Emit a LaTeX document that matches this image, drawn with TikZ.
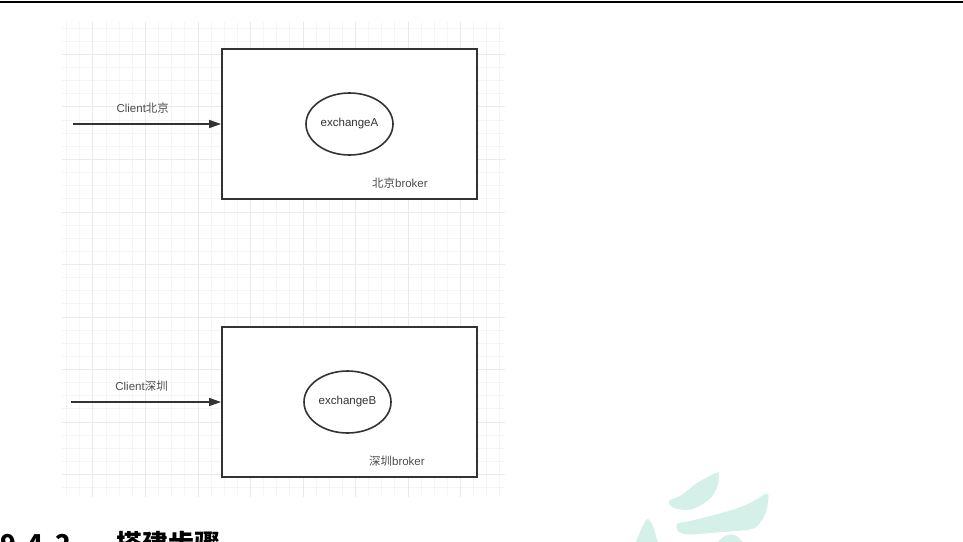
\documentclass[tikz,border=0pt]{standalone}
\usepackage{fontspec}
\setmainfont{Liberation Sans}
\newfontfamily\cjk{Noto Sans CJK SC}
\usetikzlibrary{arrows.meta,shapes.geometric,positioning}
\definecolor{gridminor}{RGB}{245,245,245}
\definecolor{gridmajor}{RGB}{234,234,234}
\definecolor{ink}{RGB}{51,51,51}
\definecolor{wm}{RGB}{213,239,233}

\begin{document}
\begin{tikzpicture}[x=1pt,y=-1pt,
  broker/.style={draw=ink,line width=1.8pt,fill=white,minimum width=255pt,minimum height=150pt,inner sep=0pt},
  exch/.style={ellipse,draw=ink,line width=1.6pt,minimum width=87pt,minimum height=62pt,inner sep=0pt,font=\fontsize{11.5}{14}\selectfont,text=ink},
  lbl/.style={inner sep=0pt,font=\fontsize{11.5}{14}\selectfont,text=black!70},
  flow/.style={-{Triangle[length=12pt,width=8pt]},color=ink,line width=1.6pt}]

\useasboundingbox (0,0) rectangle (963,541);
\draw[line width=2.5pt] (0,2.2) -- (963,2.2);

\foreach \k in {0,...,33} \draw[gridminor,line width=1pt] ({66.7+13.13*\k},22) -- ({66.7+13.13*\k},497);
\foreach \k in {0,...,35} \draw[gridminor,line width=1pt] (62,{28.2+13.13*\k}) -- (505,{28.2+13.13*\k});
\foreach \k in {2,6,...,30} \draw[gridmajor,line width=1pt] ({66.7+13.13*\k},22) -- ({66.7+13.13*\k},497);
\foreach \k in {2,6,...,34} \draw[gridmajor,line width=1pt] (62,{28.2+13.13*\k}) -- (505,{28.2+13.13*\k});

\node[broker] (brokerA) at (349.5,124) {};
\node[exch] (exchA) at (brokerA) {exchangeA};
\node[lbl] (locA) at ([xshift=-78pt,yshift=17pt]brokerA.south east) {{\cjk 北京}broker};

\node[broker] (brokerB) at (349.5,402) {};
\node[exch] (exchB) at ([xshift=-2pt]brokerB.center) {exchangeB};
\node[lbl] (locB) at ([xshift=-81pt,yshift=17pt]brokerB.south east) {{\cjk 深圳}broker};

\coordinate (cA) at (73.3,124);
\coordinate (cB) at (71,402);
\path[flow] (cA) edge node[lbl,above=9.5pt,pos=.47] {Client{\cjk 北京}} (brokerA)
            (cB) edge node[lbl,above=9.5pt,pos=.47] {Client{\cjk 深圳}} (brokerB);

\begin{scope}
\clip (0,0) rectangle (963,541);
\fill[wm] plot[smooth cycle,tension=.7] coordinates {(716.7,472.7) (696.7,483.3) (681.7,495) (670,500) (669.3,503.3) (675,508.3) (691.7,509.3) (708.3,500) (716.7,488.3) (718.7,476.7)};
\fill[wm] plot[smooth cycle,tension=.6] coordinates {(677,524) (690,521) (710,516) (735,509) (752,502) (767,493.5) (768,502) (766,512) (760,523) (752,529) (735,531) (710,533) (690,534.5) (679,532)};
\fill[wm] plot[smooth cycle,tension=.6] coordinates {(718,545) (724,536.5) (732,534.5) (739,538) (742,545)};
\fill[wm] plot[smooth cycle,tension=.6] coordinates {(648,519) (652,524) (655,533) (657,548) (636,548) (640,532) (645,522)};
\node[anchor=base west,inner sep=0pt,font={\cjk\bfseries\fontsize{26}{30}\selectfont}] (sec) at (0,553) {9.\hspace{2.5pt}4.\hspace{2.5pt}2\hspace{46pt}搭建步骤};
\end{scope}
\end{tikzpicture}
\end{document}
